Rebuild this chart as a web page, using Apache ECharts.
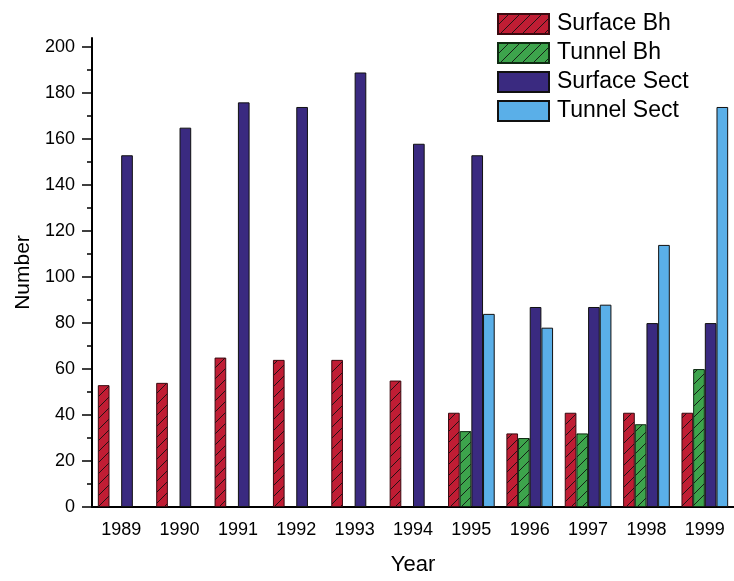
<!DOCTYPE html>
<html>
<head>
<meta charset="utf-8">
<script src="https://cdn.jsdelivr.net/npm/echarts@6/dist/echarts.min.js"></script>
<style>
    html, body { margin: 0; padding: 0; background: #fff; }
    #main { width: 734px; height: 581px; }
</style>
</head>
<body>
<div id="main"></div>
<script>
// categories and values
var years = ['1989', '1990', '1991', '1992', '1993', '1994', '1995', '1996', '1997', '1998', '1999'];
var surfaceBh = [53, 54, 65, 64, 64, 55, 41, 32, 41, 41, 41];
var tunnelBh = [null, null, null, null, null, null, 33, 30, 32, 36, 60];
var surfaceSect = [153, 165, 176, 174, 189, 158, 153, 87, 87, 80, 80];
var tunnelSect = [null, null, null, null, null, null, 84, 78, 88, 114, 174];
var yMajorTicks = [0, 20, 40, 60, 80, 100, 120, 140, 160, 180, 200];
var yMinorTicks = [10, 30, 50, 70, 90, 110, 130, 150, 170, 190];

var FONT = '"Liberation Sans", Arial, sans-serif';

// hatched fill, "/" lines
function hatch(bg) {
    var size = 11;
    var c = document.createElement('canvas');
    c.width = size;
    c.height = size;
    var ctx = c.getContext('2d');
    ctx.fillStyle = bg;
    ctx.fillRect(0, 0, size, size);
    ctx.strokeStyle = '#111';
    ctx.lineWidth = 0.9;
    ctx.beginPath();
    ctx.moveTo(-1, size + 1);
    ctx.lineTo(size + 1, -1);
    ctx.moveTo(-1, 1);
    ctx.lineTo(1, -1);
    ctx.moveTo(size - 1, size + 1);
    ctx.lineTo(size + 1, size - 1);
    ctx.stroke();
    return { image: c, repeat: 'repeat' };
}

function barSeries(name, data, fill, border) {
    return {
        name: name,
        type: 'bar',
        data: data,
        xAxisIndex: 0,
        yAxisIndex: 0,
        barGap: 0,
        barCategoryGap: '20%',
        itemStyle: { color: fill, borderColor: border, borderWidth: 1 }
    };
}

var chart = echarts.init(document.getElementById('main'), null, { renderer: 'canvas' });

var option = {
    animation: false,
    backgroundColor: '#ffffff',
    textStyle: { fontFamily: FONT, color: '#000' },
    grid: { left: 92, right: -4.4, top: 38, bottom: 69, containLabel: false },
    legend: {
        left: 497,
        top: 12.5,
        padding: 0,
        orient: 'vertical',
        icon: 'rect',
        itemWidth: 51,
        itemHeight: 20,
        itemGap: 6,
        textStyle: { fontFamily: FONT, fontSize: 23, color: '#000', padding: [0, 0, 0, 3] },
        data: ['Surface Bh', 'Tunnel Bh', 'Surface Sect', 'Tunnel Sect']
    },
    xAxis: [
        {
            type: 'category',
            position: 'bottom',
            data: years,
            name: 'Year',
            nameLocation: 'middle',
            nameGap: 47,
            nameTextStyle: { fontFamily: FONT, fontSize: 22, color: '#000' },
            axisLine: { lineStyle: { color: '#000', width: 2 } },
            axisTick: { alignWithLabel: false, length: 5, lineStyle: { color: '#000', width: 1.5 } },
            axisLabel: { fontFamily: FONT, fontSize: 18, color: '#000', margin: 14 }
        },
        {
            type: 'category',
            position: 'bottom',
            data: years,
            axisLine: { show: false },
            axisTick: { alignWithLabel: true, length: 10, lineStyle: { color: '#000', width: 1.5 } },
            axisLabel: { show: false }
        }
    ],
    yAxis: [
        {
            type: 'value',
            min: 0,
            max: 204,
            interval: 20,
            name: 'Number',
            nameLocation: 'middle',
            nameGap: 57,
            nameTextStyle: { fontFamily: FONT, fontSize: 21, color: '#000' },
            splitLine: { show: false },
            axisLine: { show: true, lineStyle: { color: '#000', width: 2 } },
            axisTick: { show: true, length: 10, customValues: yMajorTicks, lineStyle: { color: '#000', width: 1.5 } },
            axisLabel: { fontFamily: FONT, fontSize: 18, color: '#000', margin: 17, customValues: yMajorTicks }
        },
        {
            type: 'value',
            min: 0,
            max: 204,
            position: 'left',
            splitLine: { show: false },
            axisLine: { show: false },
            axisTick: { show: true, length: 5, customValues: yMinorTicks, lineStyle: { color: '#000', width: 1.5 } },
            axisLabel: { show: false }
        }
    ],
    series: [
        barSeries('Surface Bh', surfaceBh, hatch('#c01d34'), '#3a0a10'),
        barSeries('Tunnel Bh', tunnelBh, hatch('#3da44c'), '#0f2a12'),
        barSeries('Surface Sect', surfaceSect, '#3a2a80', '#111'),
        barSeries('Tunnel Sect', tunnelSect, '#5aafe8', '#111')
    ]
};

chart.setOption(option);
</script>
</body>
</html>
